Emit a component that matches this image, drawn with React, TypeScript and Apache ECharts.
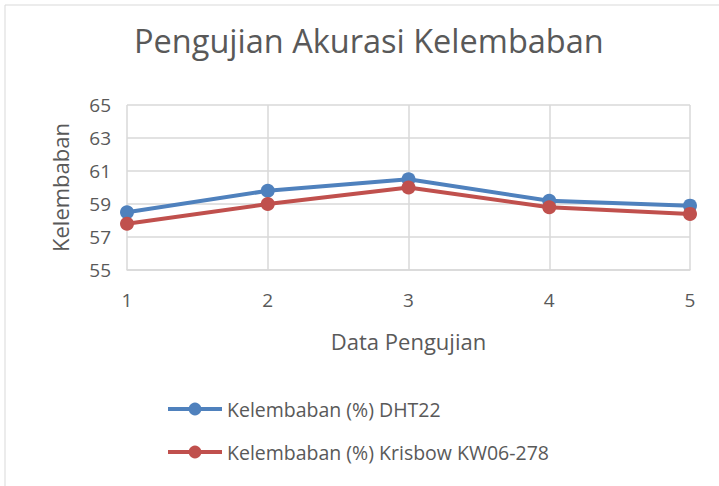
import React, { useEffect, useRef } from "react";
import * as echarts from "echarts";

const categories = ["1", "2", "3", "4", "5"];
const dht22 = [58.5, 59.8, 60.5, 59.2, 58.9];
const krisbow = [57.8, 59.0, 60.0, 58.8, 58.4];
const seriesNames = ["Kelembaban (%) DHT22", "Kelembaban (%) Krisbow KW06-278"];

const FONT = "'Open Sans', sans-serif";
const TEXT = "#595959";

export default function App() {
  const ref = useRef<HTMLDivElement>(null);
  useEffect(() => {
    if (!ref.current) return;
    const chart = echarts.init(ref.current, undefined, { renderer: "svg" });
    chart.setOption({
      animation: false,
      backgroundColor: "#fff",
      textStyle: { fontFamily: FONT, color: TEXT },
      title: {
        text: "Pengujian Akurasi Kelembaban",
        left: 134,
        top: 24,
        padding: 0,
        textStyle: { fontFamily: FONT, fontSize: 32.5, fontWeight: "normal", color: TEXT },
      },
      graphic: [
        {
          type: "rect",
          shape: { x: 5, y: 5, width: 730, height: 500 },
          style: { fill: "none", stroke: "#D9D9D9", lineWidth: 1 },
          silent: true,
        },
      ],
      legend: {
        orient: "vertical",
        left: 161,
        top: 394,
        itemGap: 23,
        itemWidth: 54,
        itemHeight: 16,
        lineStyle: { width: 4 },
        textStyle: { fontFamily: FONT, fontSize: 19.5, color: TEXT },
        data: seriesNames,
      },
      grid: { left: 127, right: 29, top: 105, bottom: 216, containLabel: false },
      xAxis: {
        type: "category",
        data: categories,
        boundaryGap: false,
        name: "Data Pengujian",
        nameLocation: "middle",
        nameGap: 60,
        nameTextStyle: { fontFamily: FONT, fontSize: 22, color: TEXT },
        axisLine: { lineStyle: { color: "#D9D9D9", width: 1.5 } },
        axisTick: { show: false },
        axisLabel: { fontFamily: FONT, fontSize: 19, color: TEXT, margin: 20 },
        splitLine: { show: true, lineStyle: { color: "#D9D9D9", width: 1.5 } },
      },
      yAxis: {
        type: "value",
        min: 55,
        max: 65,
        interval: 2,
        name: "Kelembaban",
        nameLocation: "middle",
        nameGap: 56,
        nameRotate: 90,
        nameTextStyle: { fontFamily: FONT, fontSize: 22, color: TEXT },
        axisLine: { show: false },
        axisTick: { show: false },
        axisLabel: { fontFamily: FONT, fontSize: 19, color: TEXT, margin: 16 },
        splitLine: { lineStyle: { color: "#D9D9D9", width: 1.5 } },
      },
      series: [
        {
          name: seriesNames[0],
          type: "line",
          data: dht22,
          symbol: "circle",
          symbolSize: 14,
          lineStyle: { color: "#4F81BD", width: 4 },
          itemStyle: { color: "#4F81BD" },
        },
        {
          name: seriesNames[1],
          type: "line",
          data: krisbow,
          symbol: "circle",
          symbolSize: 14,
          lineStyle: { color: "#C0504D", width: 4 },
          itemStyle: { color: "#C0504D" },
        },
      ],
    });
    return () => chart.dispose();
  }, []);
  return <div ref={ref} style={{ width: 719, height: 486, position: "absolute", left: 0, top: 0 }} />;
}
